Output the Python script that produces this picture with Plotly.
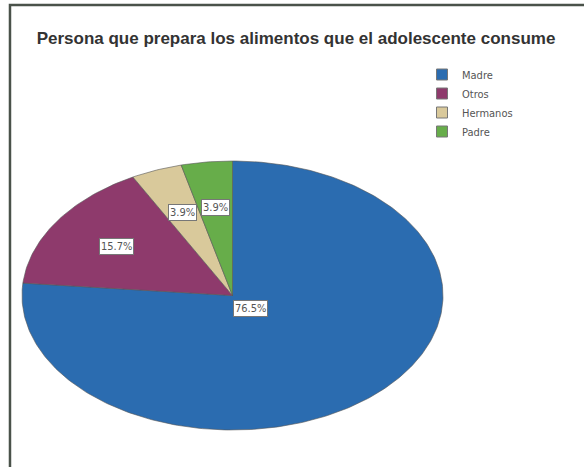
# Persona que prepara los alimentos - gráfico de pastel elíptico (estilo SPSS)
import numpy as np
import plotly.graph_objects as go

categorias = ['Madre', 'Otros', 'Hermanos', 'Padre']
frecuencias = [39, 8, 2, 2]
porcentajes = ['76.5%', '15.7%', '3.9%', '3.9%']
colores = ['#2b6cb0', '#8e3a6c', '#d9c99b', '#67ad4a']

# centro y radios de la elipse (en pixeles)
cx, cy, rx, ry = 232.5, 295.5, 210.5, 134.5
total = sum(frecuencias)
fuente_chica = 'Liberation Sans Narrow, DejaVu Sans Condensed, Liberation Sans'

fig = go.Figure()
inicio = 0.0
for nombre, n, pct, color in zip(categorias, frecuencias, porcentajes, colores):
    fin = inicio + n / total
    ang = np.linspace(inicio, fin, max(int(n / total * 360), 4) + 1) * 2 * np.pi
    xs = [cx] + list(cx + rx * np.sin(ang)) + [cx]
    ys = [cy] + list(cy - ry * np.cos(ang)) + [cy]
    fig.add_trace(go.Scatter(x=xs, y=ys, fill='toself', mode='lines', fillcolor=color,
                             line=dict(color='#555555', width=0.6), name=nombre,
                             hoverinfo='name', showlegend=False))
    # solo para la leyenda (cuadrito)
    fig.add_trace(go.Scatter(x=[None], y=[None], mode='markers', name=nombre,
                             marker=dict(symbol='square', size=11, color=color,
                                         line=dict(color='#777777', width=1))))
    medio = (inicio + fin) / 2 * 2 * np.pi
    r = 0.13 if n / total > 0.5 else 0.66
    fig.add_annotation(x=cx + r * rx * np.sin(medio), y=cy - r * ry * np.cos(medio),
                       text=pct, showarrow=False, bgcolor='white', bordercolor='#777777',
                       borderwidth=1, borderpad=1,
                       font=dict(family=fuente_chica, size=11, color='#555555'))
    inicio = fin

# marco
fig.add_shape(type='path', xref='paper', yref='paper',
              path='M 0.0171 -0.1 L 0.0171 0.9893 L 1.1 0.9893',
              line=dict(color='#4a524a', width=2.5))

fig.update_layout(
    width=584, height=467,
    margin=dict(l=0, r=0, t=0, b=0),
    paper_bgcolor='white', plot_bgcolor='white',
    xaxis=dict(range=[0, 584], visible=False, fixedrange=True),
    yaxis=dict(range=[467, 0], visible=False, fixedrange=True),
    showlegend=True,
    legend=dict(x=422 / 584, y=1 - 60 / 467, xanchor='left', yanchor='top',
                font=dict(family=fuente_chica, size=11, color='#555555'),
                bgcolor='rgba(0,0,0,0)', tracegroupgap=0, itemwidth=30),
    title=dict(text='<b>Persona que prepara los alimentos que el adolescente consume</b>',
               x=296 / 584, xanchor='center', y=1 - 38 / 467, yanchor='middle',
               font=dict(family='Liberation Sans', size=17, color='#333333')),
)

# quitar el margen del body para que la figura quede en (0, 0)
fig.write_html('out.html', config={'displayModeBar': False},
               post_script="document.body.style.margin='0';")
